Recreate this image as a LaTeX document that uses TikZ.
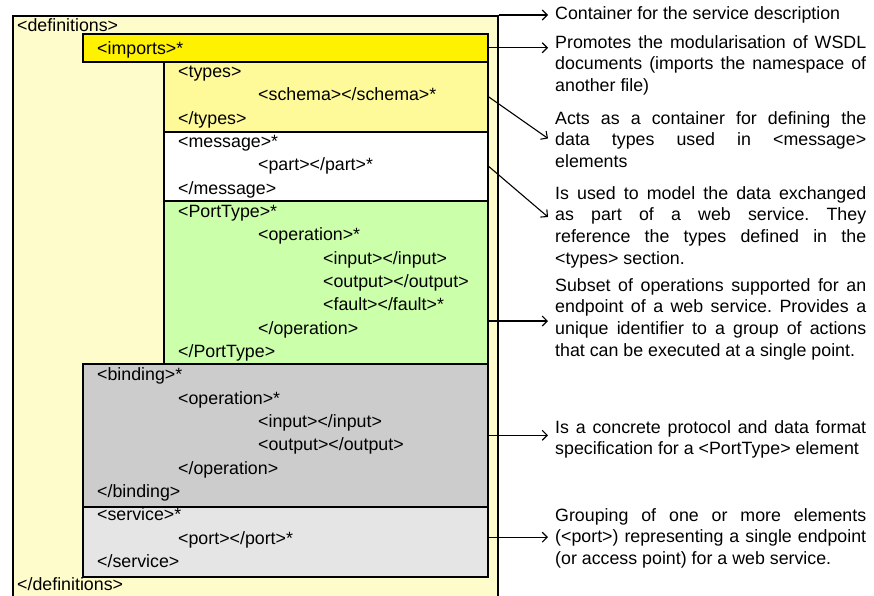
\documentclass[tikz,border=0pt]{standalone}
\usepackage{fontspec}
\setmainfont{Liberation Sans}
\usetikzlibrary{arrows.meta}

\definecolor{portgreen}{HTML}{CCFFAA}

\tikzset{
  box/.style={draw, line width=1.5pt, inner sep=0pt, anchor=north west},
  tag/.style={anchor=base west, inner sep=0pt},
  note/.style={anchor=north west, text width=311pt, align=justify, inner xsep=7pt, inner ysep=0pt},
  link/.style={-{Straight Barb[length=5pt,width=10pt]}, line width=1.1pt}
}

\begin{document}
\begin{tikzpicture}[x=1pt, y=-1pt]

\newcommand\ROW{23.33}
\newcommand\TA{17}
\newcommand\TB{97}
\newcommand\TC{178}
\newcommand\TD{258}
\newcommand\TE{323}

\newcommand\DEFSFILL{yellow!20}
\newcommand\TYPESFILL{yellow!40}
\newcommand\PORTFILL{portgreen}

\fontsize{17.8}{21.6}\selectfont
\frenchspacing
\useasboundingbox (0,0) rectangle (874,595);

%% nested boxes
\node[box, fill=\DEFSFILL, minimum width=485pt, minimum height=590pt] (bdefs) at (12,15) {};
\node[box, fill=yellow, minimum width=405pt, minimum height=28pt] (bimports) at (82,33) {};
\node[box, fill=\TYPESFILL, minimum width=324pt, minimum height=70pt] (btypes) at (163,61) {};
\node[box, fill=white, minimum width=324pt, minimum height=69pt] (bmessage) at (163,131) {};
\node[box, fill=\PORTFILL, minimum width=324pt, minimum height=163pt] (bport) at (163,200) {};
\node[box, fill=gray!40, minimum width=405pt, minimum height=143pt] (bbinding) at (82,363) {};
\node[box, fill=gray!20, minimum width=405pt, minimum height=70pt] (bservice) at (82,506) {};

%% wsdl listing
\node[tag] (r0) at (\TA, 31+0*\ROW) {<definitions>};
\node[tag] (r1) at (\TB, 31+1*\ROW) {<imports>*};
\node[tag] (r2) at (\TC, 31+2*\ROW) {<types>};
\node[tag] (r3) at (\TD, 31+3*\ROW) {<schema></schema>*};
\node[tag] (r4) at (\TC, 31+4*\ROW) {</types>};
\node[tag] (r5) at (\TC, 31+5*\ROW) {<message>*};
\node[tag] (r6) at (\TD, 31+6*\ROW) {<part></part>*};
\node[tag] (r7) at (\TC, 31+7*\ROW) {</message>};
\node[tag] (r8) at (\TC, 31+8*\ROW) {<PortType>*};
\node[tag] (r9) at (\TD, 31+9*\ROW) {<operation>*};
\node[tag] (r10) at (\TE, 31+10*\ROW) {<input></input>};
\node[tag] (r11) at (\TE, 31+11*\ROW) {<output></output>};
\node[tag] (r12) at (\TE, 31+12*\ROW) {<fault></fault>*};
\node[tag] (r13) at (\TD, 31+13*\ROW) {</operation>};
\node[tag] (r14) at (\TC, 31+14*\ROW) {</PortType>};
\node[tag] (r15) at (\TB, 31+15*\ROW) {<binding>*};
\node[tag] (r16) at (\TC, 31+16*\ROW) {<operation>*};
\node[tag] (r17) at (\TD, 31+17*\ROW) {<input></input>};
\node[tag] (r18) at (\TD, 31+18*\ROW) {<output></output>};
\node[tag] (r19) at (\TC, 31+19*\ROW) {</operation>};
\node[tag] (r20) at (\TB, 31+20*\ROW) {</binding>};
\node[tag] (r21) at (\TB, 31+21*\ROW) {<service>*};
\node[tag] (r22) at (\TC, 31+22*\ROW) {<port></port>*};
\node[tag] (r23) at (\TB, 31+23*\ROW) {</service>};
\node[tag] (r24) at (\TA, 31+24*\ROW) {</definitions>};

%% descriptions
\node[note] (ddefs) at (548,4) {\strut Container for the service description};
\node[note] (dimports) at (548,33) {\strut Promotes the modularisation of WSDL\linebreak
documents (imports the namespace of\linebreak another file)};
\node[note] (dtypes) at (548,109) {\strut Acts as a container for defining the\linebreak
data types used in <message>\linebreak elements};
\node[note] (dmessage) at (548,184) {\strut Is used to model the data exchanged\linebreak
as part of a web service. They\linebreak reference the types defined in the\linebreak
<types> section.};
\node[note] (dport) at (548,276) {\strut Subset of operations supported for an\linebreak
endpoint of a web service. Provides a\linebreak unique identifier to a group of actions\linebreak
that can be executed at a single point.};
\node[note] (dbinding) at (548,418) {\strut Is a concrete protocol and data format\linebreak
specification for a <PortType> element};
\node[note] (dservice) at (548,506) {\strut Grouping of one or more elements\linebreak
(<port>) representing a single endpoint\linebreak (or access point) for a web service.};

%% pointers
\draw[link] (bdefs.north east) -- (bdefs.north east -| ddefs.west);
\draw[link] (bimports.east) -- (bimports.east -| dimports.west);
\draw[link] (btypes.east) -- (dtypes.west);
\draw[link] (bmessage.east) -- ([yshift=9pt]dmessage.west);
\draw[link] ([yshift=-3pt]bport.east |- dport.west) -- ([yshift=-3pt]dport.west);
\draw[link] (bbinding.east) -- (bbinding.east -| dbinding.west);
\draw[link] (bservice.east |- dservice.west) -- (dservice.west);

\end{tikzpicture}
\end{document}
